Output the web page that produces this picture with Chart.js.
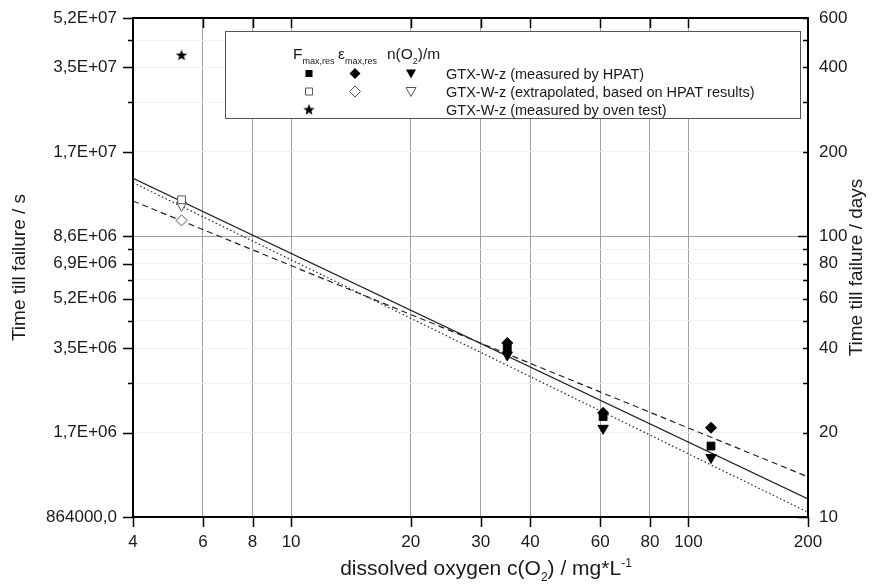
<!DOCTYPE html>
<html lang="en">

<head>
    <meta charset="UTF-8">
    <title>Time till failure vs dissolved oxygen</title>
    <style>
        body { margin: 0; background: #fff; }
        .chart-box { width: 875px; height: 587px; }
    </style>
</head>

<body>
    <div class="chart-box">
        <canvas id="failureChart"></canvas>
    </div>
</body>
<script src="https://cdn.jsdelivr.net/npm/chart.js"></script>

<script>
    // axis ticks
    const xTicks = [4, 6, 8, 10, 20, 30, 40, 60, 80, 100, 200];
    const dayTicks = [10, 20, 30, 40, 50, 60, 70, 80, 90, 100, 200, 300, 400, 500, 600];
    const dayLabels = [10, 20, 40, 60, 80, 100, 200, 400, 600];
    const secPerDay = 86400;

    // measured by HPAT (days)
    const measuredO2 = [35, 61, 114];
    const fMeasured = [40, 22.8, 17.9];
    const epsMeasured = [41.7, 23.5, 20.8];
    const nMeasured = [37.8, 20.7, 16.3];

    // extrapolated, based on HPAT results
    const extrapO2 = [5.3];
    const fExtrap = [135];
    const epsExtrap = [114];
    const nExtrap = [129];

    // oven test
    const ovenO2 = [5.3];
    const ovenDays = [443];

    // fit lines, end points at x = 4 and x = 200
    const fitO2 = [4, 200];
    const fFit = [161, 11.6];
    const epsFit = [133.7, 13.9];
    const nFit = [155.4, 10.4];

    const FONT = "'Liberation Sans', Arial, sans-serif";
    Chart.defaults.font.family = FONT;
    Chart.defaults.color = '#1a1a1a';

    function pts(xs, ys) {
        return xs.map((x, i) => ({ x: x, y: ys[i] }));
    }

    // filled five point star as point style
    function makeStar(size) {
        let c = document.createElement('canvas');
        c.width = size;
        c.height = size;
        let g = c.getContext('2d');
        let cx = size / 2, cy = size / 2, R = size / 2, r = R * 0.42;
        g.beginPath();
        for (let i = 0; i < 10; i++) {
            let rad = (i % 2 === 0) ? R : r;
            let a = -Math.PI / 2 + i * Math.PI / 5;
            g.lineTo(cx + rad * Math.cos(a), cy + rad * Math.sin(a) + 0.5);
        }
        g.closePath();
        g.fillStyle = '#000';
        g.fill();
        return c;
    }
    const starImg = makeStar(12);

    function secLabel(v) {
        if (v < 1e6) return v.toFixed(1).replace('.', ',');
        let s = v.toExponential(1).toUpperCase().replace('.', ',');
        return s.replace(/E\+(\d)$/, 'E+0$1');
    }

    function drawMarker(ctx, type, x, y, filled) {
        ctx.save();
        ctx.beginPath();
        if (type === 'square') {
            ctx.rect(x - 3.5, y - 3.5, 7, 7);
        } else if (type === 'diamond') {
            ctx.moveTo(x, y - 5.5); ctx.lineTo(x + 5.5, y); ctx.lineTo(x, y + 5.5); ctx.lineTo(x - 5.5, y);
            ctx.closePath();
        } else if (type === 'tri') {
            ctx.moveTo(x - 5, y - 4); ctx.lineTo(x + 5, y - 4); ctx.lineTo(x, y + 5);
            ctx.closePath();
        }
        if (filled) {
            ctx.fillStyle = '#000';
            ctx.fill();
        } else {
            ctx.fillStyle = '#fff';
            ctx.fill();
            ctx.strokeStyle = '#555';
            ctx.lineWidth = 1;
            ctx.stroke();
        }
        ctx.restore();
    }

    // text with sub/superscript pieces: [text, mode]
    function richText(ctx, parts, x, y, size, align, small) {
        let sm = small || size * 0.62;
        let widths = parts.map(p => {
            ctx.font = (p[1] ? sm : size) + 'px ' + FONT;
            return ctx.measureText(p[0]).width;
        });
        let total = widths.reduce((a, b) => a + b, 0);
        let cx = align === 'center' ? x - total / 2 : x;
        parts.forEach((p, i) => {
            ctx.font = (p[1] ? sm : size) + 'px ' + FONT;
            let dy = p[1] === 'sub' ? size * 0.3 : (p[1] === 'sup' ? -size * 0.4 : 0);
            ctx.fillText(p[0], cx, y + dy);
            cx += widths[i];
        });
    }

    const decorPlugin = {
        id: 'decor',
        afterDatasetsDraw(chart) {
            let ctx = chart.ctx;
            // legend box
            ctx.save();
            ctx.fillStyle = '#fff';
            ctx.fillRect(225.5, 31.5, 575, 87);
            ctx.strokeStyle = '#555';
            ctx.lineWidth = 1;
            ctx.strokeRect(225.5, 31.5, 575, 87);

            ctx.fillStyle = '#1a1a1a';
            ctx.textBaseline = 'alphabetic';
            ctx.textAlign = 'left';
            richText(ctx, [['F', ''], ['max,res', 'sub']], 293, 59, 15.5, 'left', 9);
            richText(ctx, [['\u03b5', ''], ['max,res', 'sub']], 338, 59, 15.5, 'left', 9);
            richText(ctx, [['n(O', ''], ['2', 'sub'], [')/m', '']], 387, 59, 15.5, 'left', 9);

            let rows = [73.5, 91.5, 109.5];
            let cols = [309, 355, 411];
            drawMarker(ctx, 'square', cols[0], rows[0], true);
            drawMarker(ctx, 'diamond', cols[1], rows[0], true);
            drawMarker(ctx, 'tri', cols[2], rows[0], true);
            drawMarker(ctx, 'square', cols[0], rows[1], false);
            drawMarker(ctx, 'diamond', cols[1], rows[1], false);
            drawMarker(ctx, 'tri', cols[2], rows[1], false);
            ctx.drawImage(starImg, cols[0] - 6, rows[2] - 6);

            ctx.font = '14.5px ' + FONT;
            ctx.fillStyle = '#1a1a1a';
            let names = ['GTX-W-z (measured by HPAT)',
                'GTX-W-z (extrapolated, based on HPAT results)',
                'GTX-W-z (measured by oven test)'];
            names.forEach((t, i) => ctx.fillText(t, 446, rows[i] + 5));
            ctx.restore();
        },
        afterDraw(chart) {
            let ctx = chart.ctx;
            let a = chart.chartArea;
            let xs = chart.scales.x;
            let ys = chart.scales.y2;
            ctx.save();
            ctx.strokeStyle = '#000';
            ctx.lineWidth = 1.5;
            ctx.beginPath();
            xTicks.forEach(v => {
                let px = Math.round(xs.getPixelForValue(v)) + 0.5;
                ctx.moveTo(px, a.bottom);
                ctx.lineTo(px, a.bottom + 10);
                if (v !== xTicks[0] && v !== xTicks[xTicks.length - 1]) {
                    ctx.moveTo(px, a.top);
                    ctx.lineTo(px, a.top + 10);
                }
            });
            dayTicks.forEach(v => {
                let py = Math.round(ys.getPixelForValue(v)) + 0.5;
                let lenL = dayLabels.includes(v) ? 10 : 5;
                let lenR = (v === 10 || v === 100) ? 10 : 5;
                ctx.moveTo(a.left - lenL, py);
                ctx.lineTo(a.left, py);
                ctx.moveTo(a.right - lenR, py);
                ctx.lineTo(a.right, py);
            });
            ctx.stroke();
            // top frame
            ctx.lineWidth = 2;
            ctx.beginPath();
            ctx.moveTo(a.left - 1, a.top);
            ctx.lineTo(a.right + 1, a.top);
            ctx.stroke();

            // axis titles
            ctx.fillStyle = '#1a1a1a';
            ctx.textBaseline = 'alphabetic';
            richText(ctx, [['dissolved oxygen c(O', ''], ['2', 'sub'], [') / mg*L', ''], ['-1', 'sup']], 486, 575, 21, 'center', 12);

            ctx.font = '19px ' + FONT;
            ctx.textAlign = 'center';
            ctx.textBaseline = 'middle';
            let midY = (a.top + a.bottom) / 2;
            ctx.save();
            ctx.translate(20, midY);
            ctx.rotate(-Math.PI / 2);
            ctx.fillText('Time till failure / s', 0, 0);
            ctx.restore();
            ctx.save();
            ctx.translate(857, midY);
            ctx.rotate(-Math.PI / 2);
            ctx.fillText('Time till failure / days', 0, 0);
            ctx.restore();
            ctx.restore();
        }
    };

    function pointSet(data, style, filled, radius, rot) {
        return {
            type: 'scatter',
            data: data,
            yAxisID: 'y2',
            pointStyle: style,
            pointRadius: radius,
            pointRotation: rot || 0,
            backgroundColor: filled ? '#000' : '#fff',
            borderColor: filled ? '#000' : '#555',
            borderWidth: 1,
            showLine: false
        };
    }

    function fitSet(data, dash) {
        return {
            type: 'line',
            data: data,
            yAxisID: 'y2',
            borderColor: '#222',
            borderWidth: 1.2,
            borderDash: dash,
            pointRadius: 0,
            fill: false,
            tension: 0
        };
    }

    function noVPad(s) {
        s.paddingTop = 0;
        s.paddingBottom = 0;
    }

    let ctx = document.getElementById('failureChart');
    new Chart(ctx, {
        data: {
            datasets: [
                pointSet(pts(ovenO2, ovenDays), starImg, true, 6),
                pointSet(pts(measuredO2, fMeasured), 'rect', true, 5.5),
                pointSet(pts(measuredO2, epsMeasured), 'rectRot', true, 5.5),
                pointSet(pts(measuredO2, nMeasured), 'triangle', true, 6, 180),
                pointSet(pts(extrapO2, fExtrap), 'rect', false, 5.5),
                pointSet(pts(extrapO2, epsExtrap), 'rectRot', false, 5.5),
                pointSet(pts(extrapO2, nExtrap), 'triangle', false, 6, 180),
                fitSet(pts(fitO2, fFit), []),
                fitSet(pts(fitO2, epsFit), [6, 4]),
                fitSet(pts(fitO2, nFit), [1.5, 2.5])
            ]
        },
        options: {
            responsive: true,
            maintainAspectRatio: false,
            animation: false,
            layout: { padding: { top: 18, left: 0, right: 0, bottom: 0 } },
            plugins: {
                legend: { display: false },
                tooltip: { enabled: false }
            },
            scales: {
                x: {
                    type: 'logarithmic',
                    position: 'bottom',
                    min: 4,
                    max: 200,
                    afterBuildTicks: s => { s.ticks = xTicks.map(v => ({ value: v })); },
                    afterFit: s => { s.height = 70; s.paddingLeft = 0; s.paddingRight = 0; },
                    ticks: {
                        autoSkip: false,
                        maxRotation: 0,
                        padding: 15,
                        font: { size: 17 },
                        color: '#1a1a1a',
                        callback: v => String(v)
                    },
                    grid: {
                        drawTicks: false,
                        color: c => (c.tick && (c.tick.value === 4 || c.tick.value === 200)) ? 'rgba(0,0,0,0)' : '#a0a0a0',
                        lineWidth: 1
                    },
                    border: { color: '#000', width: 2 }
                },
                y: {
                    type: 'logarithmic',
                    position: 'left',
                    min: 10 * secPerDay,
                    max: 600 * secPerDay,
                    afterBuildTicks: s => { s.ticks = dayLabels.map(v => ({ value: v * secPerDay })); },
                    afterFit: s => { s.width = 133; noVPad(s); },
                    ticks: {
                        autoSkip: false,
                        padding: 16,
                        font: { size: 17 },
                        color: '#1a1a1a',
                        callback: v => secLabel(v)
                    },
                    grid: { display: false, drawTicks: false },
                    border: { color: '#000', width: 2 }
                },
                y2: {
                    type: 'logarithmic',
                    position: 'right',
                    min: 10,
                    max: 600,
                    afterBuildTicks: s => { s.ticks = dayTicks.map(v => ({ value: v })); },
                    afterFit: s => { s.width = 67; noVPad(s); },
                    ticks: {
                        autoSkip: false,
                        padding: 11,
                        font: { size: 17 },
                        color: '#1a1a1a',
                        callback: v => dayLabels.includes(v) ? String(v) : ''
                    },
                    grid: {
                        drawTicks: false,
                        color: c => {
                            if (!c.tick) return 'rgba(0,0,0,0)';
                            if (c.tick.value === 100) return '#a0a0a0';
                            if (c.tick.value === 10 || c.tick.value === 600) return 'rgba(0,0,0,0)';
                            return '#f0f0f0';
                        }
                    },
                    border: { color: '#000', width: 2 }
                }
            }
        },
        plugins: [decorPlugin]
    });
</script>

</html>
